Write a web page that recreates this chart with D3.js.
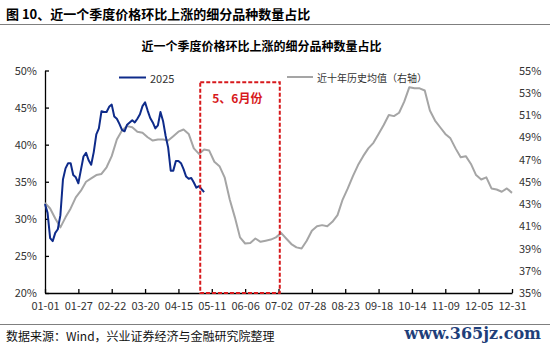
<!DOCTYPE html>
<html>
<head>
<meta charset="utf-8">
<script src="https://cdn.jsdelivr.net/npm/d3@7"></script>
<style>
  html, body { margin: 0; padding: 0; background: #fff; }
  svg { display: block; font-family: "Noto Sans CJK SC", "Noto Sans", sans-serif; }
</style>
</head>
<body>
<svg id="chart" width="550" height="347"></svg>
<script>
// ---- data ----
const figTitle = "图 10、近一个季度价格环比上涨的细分品种数量占比";
const chartTitle = "近一个季度价格环比上涨的细分品种数量占比";
const sourceText = "数据来源：Wind，兴业证券经济与金融研究院整理";
const watermark = "www.365jz.com";

const xTickLabels = ["01-01","01-27","02-22","03-20","04-15","05-11","06-06","07-02","07-28","08-23","09-18","10-14","11-09","12-05","12-31"];
const xTickDays = [0,26,52,78,104,130,156,182,208,234,260,286,312,338,364];
const leftTicks = [20,25,30,35,40,45,50];
const rightTicks = [35,37,39,41,43,45,47,49,51,53,55];

const series2025Name = "2025";
const seriesHistName = "近十年历史均值（右轴）";

// 2025 series, every 2nd day of year from 01-01 (left axis, %)
const series2025 = [32.0,30.8,27.4,27.0,28.1,28.6,30.5,35.3,36.8,37.5,37.5,35.9,35.6,34.8,36.6,38.4,38.9,37.9,37.3,39.0,41.4,42.2,44.5,44.4,44.4,45.1,45.4,43.8,43.5,42.8,42.0,41.8,42.7,43.0,43.3,43.0,43.5,44.1,45.2,45.7,44.6,43.6,43.0,42.2,42.6,44.4,43.2,41.2,39.6,36.5,36.5,37.8,37.8,37.5,36.7,35.7,35.4,35.5,34.9,34.2,34.4,34.0,33.6];
const step2025 = 2;
// ten-year average, every 4th day of year (right axis, %)
const seriesHist = [43.1,42.6,41.7,40.9,41.8,42.6,43.6,44.2,45.0,45.3,45.6,45.7,46.3,47.3,48.8,49.6,50.0,49.9,49.5,49.4,49.0,48.7,48.8,48.8,48.7,49.1,49.5,49.7,49.3,48.0,47.5,47.9,47.8,46.8,46.4,45.4,43.4,41.8,40.0,39.45,39.5,39.9,39.6,39.7,39.8,40.0,40.4,39.9,39.4,39.1,39.0,39.7,40.6,41.0,41.1,41.0,41.4,42.0,43.4,44.4,45.5,46.5,47.3,48.0,48.5,49.3,50.1,51.0,50.9,51.2,52.2,53.5,53.4,53.4,53.2,51.4,50.5,49.9,49.3,48.9,48.0,47.2,47.3,46.6,45.6,45.2,45.4,44.4,44.3,44.1,44.4,44.0];
const stepHist = 4;

// highlighted period (May–June)
const boxLabel = "5、6月份";
const boxStartDay = 121, boxEndDay = 183, boxTopValue = 48.4;

// ---- drawing ----
const svg = d3.select("#chart");
const margin = {left: 45, right: 512, top: 70.5, bottom: 293};

const x = d3.scaleLinear().domain([0, 364]).range([margin.left, margin.right]);
const yL = d3.scaleLinear().domain([20, 50]).range([margin.bottom, margin.top]);
const yR = d3.scaleLinear().domain([35, 55]).range([margin.bottom, margin.top]);

// titles and rules
svg.append("text").attr("x", 6).attr("y", 13).attr("dominant-baseline", "central")
  .attr("font-size", 13).attr("font-weight", "bold").attr("fill", "#000").text(figTitle);
svg.append("line").attr("x1", 0).attr("x2", 550).attr("y1", 24.5).attr("y2", 24.5)
  .attr("stroke", "#7f7f7f").attr("stroke-width", 1.2);
svg.append("text").attr("x", 261.5).attr("y", 45).attr("text-anchor", "middle").attr("dominant-baseline", "central")
  .attr("font-size", 12).attr("font-weight", "bold").attr("fill", "#000").text(chartTitle);
svg.append("line").attr("x1", 0).attr("x2", 550).attr("y1", 324.5).attr("y2", 324.5)
  .attr("stroke", "#7f7f7f").attr("stroke-width", 1);
svg.append("text").attr("x", 6).attr("y", 335).attr("dominant-baseline", "central")
  .attr("font-size", 12).attr("fill", "#111").text(sourceText);
svg.append("text").attr("x", 541).attr("y", 333).attr("text-anchor", "end").attr("dominant-baseline", "central")
  .attr("font-size", 16).attr("font-family", "'DejaVu Serif', 'Liberation Serif', serif").attr("font-weight", "bold")
  .attr("fill", "#1f3f7a").text(watermark);

// axes
const xAxis = d3.axisBottom(x).tickValues(xTickDays).tickFormat((d, i) => xTickLabels[i])
  .tickSizeInner(-4).tickSizeOuter(0).tickPadding(9);
const gx = svg.append("g").attr("transform", `translate(0,${margin.bottom})`).call(xAxis);
gx.select(".domain").attr("stroke", "#000").attr("stroke-width", 1.3);
gx.selectAll(".tick line").attr("stroke", "#000").attr("stroke-width", 1.3);
gx.selectAll(".tick text").attr("font-size", 11).attr("fill", "#333").attr("font-family", "'Noto Sans CJK SC', sans-serif");

const yAxisL = d3.axisLeft(yL).tickValues(leftTicks).tickFormat(d => d + "%")
  .tickSizeInner(-4).tickSizeOuter(0).tickPadding(8);
const gyl = svg.append("g").attr("transform", `translate(${margin.left},0)`).call(yAxisL);
gyl.select(".domain").attr("stroke", "#000").attr("stroke-width", 1.3);
gyl.selectAll(".tick line").attr("stroke", "#000").attr("stroke-width", 1.3);
gyl.selectAll(".tick text").attr("font-size", 11).attr("fill", "#333").attr("font-family", "'Noto Sans CJK SC', sans-serif");

const yAxisR = d3.axisRight(yR).tickValues(rightTicks).tickFormat(d => d + "%")
  .tickSize(0).tickPadding(7);
const gyr = svg.append("g").attr("transform", `translate(${margin.right},0)`).call(yAxisR);
gyr.select(".domain").remove();
gyr.selectAll(".tick text").attr("font-size", 11).attr("fill", "#333").attr("font-family", "'Noto Sans CJK SC', sans-serif");

// lines
const lineHist = d3.line().x((d, i) => x(i * stepHist)).y(d => yR(d));
const line2025 = d3.line().x((d, i) => x(i * step2025)).y(d => yL(d));

svg.append("path").datum(seriesHist).attr("d", lineHist)
  .attr("fill", "none").attr("stroke", "#a5a5a5").attr("stroke-width", 2).attr("stroke-linejoin", "round");
svg.append("path").datum(series2025).attr("d", line2025)
  .attr("fill", "none").attr("stroke", "#0e2b8a").attr("stroke-width", 2).attr("stroke-linejoin", "round");

// highlight box
svg.append("rect")
  .attr("x", x(boxStartDay)).attr("y", yL(boxTopValue))
  .attr("width", x(boxEndDay) - x(boxStartDay)).attr("height", margin.bottom - yL(boxTopValue))
  .attr("fill", "none").attr("stroke", "#d7191c").attr("stroke-width", 2).attr("stroke-dasharray", "4,2");
svg.append("text").attr("x", x(boxStartDay) + 12).attr("y", yL(boxTopValue) + 15).attr("dominant-baseline", "central")
  .attr("font-size", 12).attr("font-weight", "bold").attr("fill", "#d7191c").text(boxLabel);

// legend
const lg = svg.append("g");
lg.append("line").attr("x1", 119).attr("x2", 146).attr("y1", 77.5).attr("y2", 77.5)
  .attr("stroke", "#0e2b8a").attr("stroke-width", 2);
lg.append("text").attr("x", 150).attr("y", 78).attr("dominant-baseline", "central")
  .attr("font-size", 11).attr("fill", "#333").text(series2025Name);
lg.append("line").attr("x1", 287).attr("x2", 313).attr("y1", 77).attr("y2", 77)
  .attr("stroke", "#a5a5a5").attr("stroke-width", 2);
lg.append("text").attr("x", 317).attr("y", 77.5).attr("dominant-baseline", "central")
  .attr("font-size", 10).attr("fill", "#333").text(seriesHistName);
</script>
</body>
</html>
